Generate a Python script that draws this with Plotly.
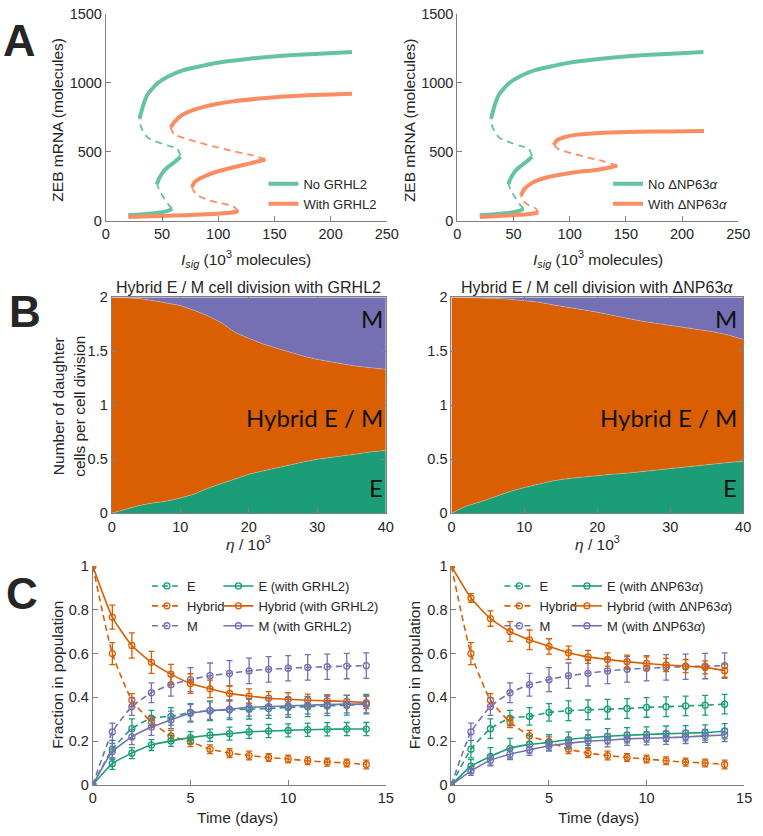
import plotly.graph_objects as go

W, H = 763, 836

# ---------------- Panel A: ZEB mRNA bifurcation branches ----------------
# "No GRHL2" / "No ΔNP63α" (identical curve in both panels)
A_NO_LOW_X = [20, 30, 40, 50, 55, 59]
A_NO_LOW_Y = [40, 46, 53, 63, 72, 88]
A_NO_UNS1_X = [59, 55, 51, 47.5, 45.5]
A_NO_UNS1_Y = [88, 125, 175, 225, 265]
A_NO_MID_X = [45.5, 46.5, 49, 52, 56, 61, 66.5]
A_NO_MID_Y = [265, 290, 330, 365, 395, 425, 465]
A_NO_UNS2_X = [66.5, 63.5, 55, 46, 37, 31.5, 30]
A_NO_UNS2_Y = [470, 522, 546, 570, 605, 676, 740]
A_NO_UP_X = [30, 33, 37, 46, 55, 69, 84, 98, 128, 157, 186, 219]
A_NO_UP_Y = [740, 830, 914, 997, 1044, 1092, 1120, 1144, 1175, 1196, 1210, 1224]

# "With GRHL2"
A_G_LOW_X = [20, 40, 60, 80, 100, 110, 118]
A_G_LOW_Y = [28, 33, 38, 44, 52, 58, 70]
A_G_UNS1_X = [118, 113, 101, 90, 81, 77.5, 76.5]
A_G_UNS1_Y = [70, 107, 130, 154, 190, 225, 245]
A_G_MID_X = [76.5, 79.5, 87, 98.5, 113, 127.5, 139, 142]
A_G_MID_Y = [245, 285, 320, 356, 387, 415, 439, 445]
A_G_UNS2_X = [142, 130.5, 113, 98.5, 84, 72, 60.5, 57.7]
A_G_UNS2_Y = [445, 475, 505, 534, 565, 593, 629, 676]
A_G_UP_X = [57.7, 60.6, 66.4, 75, 84, 98.5, 113, 142, 171, 200, 219]
A_G_UP_Y = [676, 712, 759, 795, 819, 847, 866, 890, 906, 916, 921]

# "With ΔNP63α"
A_P_LOW_X = [20, 40, 55, 65, 72]
A_P_LOW_Y = [28, 36, 44, 50, 60]
A_P_UNS1_X = [72, 70, 64, 59.5, 57.5, 56.7]
A_P_UNS1_Y = [60, 88, 111, 135, 158, 182]
A_P_MID_X = [56.7, 59.6, 67, 78.5, 101.7, 125, 136.6, 142.4]
A_P_MID_Y = [182, 230, 277, 312, 348, 371, 388, 400]
A_P_UNS2_X = [142.4, 130.8, 116.3, 101.7, 90, 85.8]
A_P_UNS2_Y = [400, 430, 459, 490, 520, 549]
A_P_UP_X = [85.8, 88.7, 96, 107.6, 130.8, 160, 189, 219.5]
A_P_UP_Y = [549, 584, 608, 625, 639, 646, 648, 651]

# ---------------- Panel B: daughter cells per division ----------------
ETA = [0, 2, 4, 6, 8, 10, 12, 14, 16, 18, 20, 22, 24, 26, 28, 30, 32, 34, 36, 38, 40]
B_G_E = [0, 0.035, 0.07, 0.095, 0.11, 0.14, 0.175, 0.23, 0.275, 0.32, 0.36, 0.39, 0.42,
         0.45, 0.475, 0.5, 0.515, 0.53, 0.55, 0.57, 0.58]
B_G_EH = [2.0, 1.995, 1.99, 1.97, 1.945, 1.925, 1.88, 1.83, 1.765, 1.675, 1.62, 1.57, 1.53,
          1.49, 1.455, 1.425, 1.40, 1.38, 1.36, 1.345, 1.333]
B_P_E = [0, 0.065, 0.105, 0.15, 0.2, 0.237, 0.267, 0.3, 0.32, 0.335, 0.345, 0.36, 0.37,
         0.385, 0.4, 0.415, 0.43, 0.445, 0.46, 0.47, 0.48]
B_P_EH = [2.0, 1.998, 1.995, 1.99, 1.983, 1.97, 1.955, 1.93, 1.91, 1.885, 1.863, 1.835, 1.805,
          1.78, 1.76, 1.742, 1.72, 1.70, 1.68, 1.65, 1.61]

# ---------------- Panel C: population fractions over time ----------------
T = [0, 1, 2, 3, 4, 5, 6, 7, 8, 9, 10, 11, 12, 13, 14]
C_E = [0, 0.163, 0.257, 0.305, 0.313, 0.331, 0.339, 0.343, 0.346, 0.349, 0.354, 0.357, 0.361, 0.364, 0.369]
C_E_ERR = [0, 0.04, 0.045, 0.035, 0.04, 0.04, 0.045, 0.045, 0.045, 0.045, 0.045, 0.045, 0.045, 0.045, 0.045]
C_H = [1.0, 0.60, 0.387, 0.287, 0.224, 0.197, 0.163, 0.145, 0.134, 0.125, 0.118, 0.11, 0.104, 0.10, 0.093]
C_H_ERR = [0, 0.05, 0.03, 0.025, 0.025, 0.022, 0.02, 0.02, 0.02, 0.018, 0.018, 0.018, 0.018, 0.018, 0.02]
C_M = [0, 0.242, 0.358, 0.421, 0.458, 0.481, 0.499, 0.51, 0.521, 0.528, 0.533, 0.537, 0.54, 0.543, 0.545]
C_M_ERR = [0, 0.04, 0.04, 0.045, 0.052, 0.055, 0.058, 0.058, 0.058, 0.058, 0.058, 0.058, 0.058, 0.058, 0.058]

C_G_E = [0, 0.097, 0.145, 0.182, 0.201, 0.216, 0.227, 0.234, 0.242, 0.246, 0.249, 0.252, 0.254, 0.255, 0.255]
C_G_E_ERR = [0, 0.026, 0.025, 0.025, 0.025, 0.027, 0.028, 0.03, 0.03, 0.03, 0.03, 0.03, 0.03, 0.03, 0.03]
C_G_H = [1.0, 0.767, 0.637, 0.56, 0.506, 0.463, 0.439, 0.418, 0.406, 0.396, 0.391, 0.387, 0.384, 0.381, 0.376]
C_G_H_ERR = [0, 0.055, 0.058, 0.05, 0.045, 0.045, 0.04, 0.035, 0.033, 0.03, 0.03, 0.028, 0.028, 0.028, 0.028]
C_G_M = [0, 0.152, 0.219, 0.264, 0.297, 0.327, 0.339, 0.346, 0.354, 0.358, 0.361, 0.364, 0.367, 0.369, 0.369]
C_G_M_ERR = [0, 0.037, 0.035, 0.038, 0.04, 0.04, 0.04, 0.04, 0.04, 0.04, 0.04, 0.04, 0.04, 0.04, 0.04]

C_P_E = [0, 0.085, 0.13, 0.167, 0.185, 0.194, 0.207, 0.215, 0.222, 0.227, 0.23, 0.234, 0.236, 0.239, 0.245]
C_P_E_ERR = [0, 0.03, 0.04, 0.045, 0.04, 0.035, 0.035, 0.035, 0.035, 0.035, 0.035, 0.035, 0.035, 0.035, 0.035]
C_P_H = [1.0, 0.854, 0.76, 0.701, 0.663, 0.633, 0.604, 0.585, 0.573, 0.563, 0.555, 0.548, 0.543, 0.537, 0.522]
C_P_H_ERR = [0, 0.02, 0.035, 0.045, 0.045, 0.035, 0.03, 0.03, 0.03, 0.03, 0.03, 0.03, 0.03, 0.03, 0.03]
C_P_M = [0, 0.063, 0.112, 0.14, 0.16, 0.179, 0.19, 0.2, 0.204, 0.21, 0.213, 0.215, 0.219, 0.224, 0.228]
C_P_M_ERR = [0, 0.02, 0.025, 0.025, 0.025, 0.025, 0.025, 0.03, 0.03, 0.03, 0.03, 0.03, 0.03, 0.03, 0.03]

# ---------------- styling ----------------
A_GREEN = "#66c2a5"
A_ORANGE = "#fc8d62"
GREEN = "#1b9e77"
ORANGE = "#d95f02"
PURPLE = "#7570b3"
FONT = "Liberation Sans, Arial, sans-serif"
AXCOL = "#808080"
TXT = "#262626"

fig = go.Figure()


def px_x(a, b):
    return [a / W, b / W]


def px_y(top, bottom):
    return [1 - bottom / H, 1 - top / H]


# ---- Panel A traces ----
def add_branch(x, y, color, dashed, ax, name=None, legend=None, show=False):
    fig.add_trace(go.Scatter(
        x=x, y=y, mode="lines", name=name or "",
        line=dict(color=color, width=1.8 if dashed else 4, dash="7px,5px" if dashed else "solid",
                  shape="spline", smoothing=0.6),
        xaxis="x" + ax, yaxis="y" + ax, showlegend=show, legend=legend, hoverinfo="skip"))


for ax, leg, nname, oname, o in [
    ("", "legend", "No GRHL2", "With GRHL2",
     (A_G_LOW_X, A_G_LOW_Y, A_G_UNS1_X, A_G_UNS1_Y, A_G_MID_X, A_G_MID_Y, A_G_UNS2_X, A_G_UNS2_Y, A_G_UP_X, A_G_UP_Y)),
    ("2", "legend2", "No ΔNP63<i>α</i>", "With ΔNP63<i>α</i>",
     (A_P_LOW_X, A_P_LOW_Y, A_P_UNS1_X, A_P_UNS1_Y, A_P_MID_X, A_P_MID_Y, A_P_UNS2_X, A_P_UNS2_Y, A_P_UP_X, A_P_UP_Y)),
]:
    add_branch(A_NO_UP_X, A_NO_UP_Y, A_GREEN, False, ax, nname, leg, True)
    add_branch(A_NO_LOW_X, A_NO_LOW_Y, A_GREEN, False, ax, legend=leg)
    add_branch(A_NO_MID_X, A_NO_MID_Y, A_GREEN, False, ax, legend=leg)
    add_branch(A_NO_UNS1_X, A_NO_UNS1_Y, A_GREEN, True, ax, legend=leg)
    add_branch(A_NO_UNS2_X, A_NO_UNS2_Y, A_GREEN, True, ax, legend=leg)
    add_branch(o[8], o[9], A_ORANGE, False, ax, oname, leg, True)
    add_branch(o[0], o[1], A_ORANGE, False, ax, legend=leg)
    add_branch(o[4], o[5], A_ORANGE, False, ax, legend=leg)
    add_branch(o[2], o[3], A_ORANGE, True, ax, legend=leg)
    add_branch(o[6], o[7], A_ORANGE, True, ax, legend=leg)

# ---- Panel B stacked areas ----
for ax, e, eh in [("3", B_G_E, B_G_EH), ("4", B_P_E, B_P_EH)]:
    hyb = [b - a for a, b in zip(e, eh)]
    mes = [2 - b for b in eh]
    for vals, col, nm in [(e, GREEN, "E"), (hyb, ORANGE, "Hybrid E / M"), (mes, PURPLE, "M")]:
        fig.add_trace(go.Scatter(
            x=ETA, y=vals, mode="lines", stackgroup="s" + ax, name=nm,
            line=dict(color="rgba(210,210,210,0.7)", width=0.6),
            fillcolor=col, xaxis="x" + ax, yaxis="y" + ax, showlegend=False, hoverinfo="skip"))


# ---- Panel C error-bar lines ----
def add_c(y, err, color, dashed, ax, name, legend):
    fig.add_trace(go.Scatter(
        x=T, y=y, mode="lines+markers", name=name,
        line=dict(color=color, width=1.6, dash="6px,4px" if dashed else "solid", shape="spline", smoothing=0.5),
        marker=dict(symbol="circle-open", size=6, color=color, line=dict(width=1.3, color=color)),
        error_y=dict(type="data", array=err, visible=True, color=color, thickness=1.3, width=3),
        xaxis="x" + ax, yaxis="y" + ax, legend=legend, showlegend=True))


for ax, la, lb, tag, sets in [
    ("5", "legend3", "legend4", "GRHL2",
     ((C_G_E, C_G_E_ERR), (C_G_H, C_G_H_ERR), (C_G_M, C_G_M_ERR))),
    ("6", "legend5", "legend6", "ΔNP63<i>α</i>",
     ((C_P_E, C_P_E_ERR), (C_P_H, C_P_H_ERR), (C_P_M, C_P_M_ERR))),
]:
    add_c(C_E, C_E_ERR, GREEN, True, ax, "E", la)
    add_c(C_H, C_H_ERR, ORANGE, True, ax, "Hybrid", la)
    add_c(C_M, C_M_ERR, PURPLE, True, ax, "M", la)
    add_c(sets[0][0], sets[0][1], GREEN, False, ax, "E (with %s)" % tag, lb)
    add_c(sets[1][0], sets[1][1], ORANGE, False, ax, "Hybrid (with %s)" % tag, lb)
    add_c(sets[2][0], sets[2][1], PURPLE, False, ax, "M (with %s)" % tag, lb)


# ---- axes ----
def axis(domain, rng, ticks, anchor, mirror=False, ticktext=None):
    d = dict(domain=domain, range=rng, tickvals=ticks, anchor=anchor, showgrid=False, zeroline=False,
             showline=True, linecolor=AXCOL, linewidth=1, ticks="inside", ticklen=5, tickcolor=AXCOL,
             tickfont=dict(family=FONT, size=14.5, color=TXT), fixedrange=True)
    if ticktext is not None:
        d["ticktext"] = ticktext
    if mirror:
        d["mirror"] = "ticks"
    return d


AY = px_y(6, 217)
BY = px_y(295, 515)
CY = px_y(569, 792)
layout_axes = dict(
    xaxis=axis(px_x(104, 391), [0, 250], [0, 50, 100, 150, 200, 250], "y"),
    yaxis=axis(AY, [0, 1500], [0, 500, 1000, 1500], "x"),
    xaxis2=axis(px_x(463, 750), [0, 250], [0, 50, 100, 150, 200, 250], "y2"),
    yaxis2=axis(AY, [0, 1500], [0, 500, 1000, 1500], "x2"),
    xaxis3=axis(px_x(110, 390), [0, 40], [0, 10, 20, 30, 40], "y3", True),
    yaxis3=axis(BY, [0, 2], [0, 0.5, 1, 1.5, 2], "x3", True, ["0", "0.5", "1", "1.5", "2"]),
    xaxis4=axis(px_x(457, 755), [0, 40], [0, 10, 20, 30, 40], "y4", True),
    yaxis4=axis(BY, [0, 2], [0, 0.5, 1, 1.5, 2], "x4", True, ["0", "0.5", "1", "1.5", "2"]),
    xaxis5=axis(px_x(90.7, 390), [0, 15], [0, 5, 10, 15], "y5"),
    yaxis5=axis(CY, [0, 1], [0, 0.2, 0.4, 0.6, 0.8, 1], "x5", False, ["0", "0.2", "0.4", "0.6", "0.8", "1"]),
    xaxis6=axis(px_x(457, 756), [0, 15], [0, 5, 10, 15], "y6"),
    yaxis6=axis(CY, [0, 1], [0, 0.2, 0.4, 0.6, 0.8, 1], "x6", False, ["0", "0.2", "0.4", "0.6", "0.8", "1"]),
)


def legend(xpx, ypx):
    return dict(x=xpx / W, y=1 - ypx / H, xanchor="left", yanchor="top", bgcolor="rgba(0,0,0,0)",
                borderwidth=0, font=dict(family=FONT, size=13, color=TXT), tracegroupgap=0,
                itemwidth=30, traceorder="normal")


# ---- annotations ----
ann = []


def text(xpx, ypx, s, size=15.5, angle=0, family=FONT, color=TXT, xanchor="center"):
    ann.append(dict(x=xpx / W, y=1 - ypx / H, xref="paper", yref="paper", text=s, showarrow=False,
                    textangle=angle, xanchor=xanchor, yanchor="middle",
                    font=dict(family=family, size=size, color=color)))


# panel letters
text(16, 33, "<b>A</b>", 45)
text(21, 309, "<b>B</b>", 44)
text(18, 597, "<b>C</b>", 44)
# A axis titles
text(55, 114, "ZEB mRNA (molecules)", 15.5, -90)
text(415, 114, "ZEB mRNA (molecules)", 15.5, -90)
text(247, 256, "<i>I</i><sub><i>sig</i></sub> (10<sup>3</sup> molecules)", 15.5)
text(607, 256, "<i>I</i><sub><i>sig</i></sub> (10<sup>3</sup> molecules)", 15.5)
# B titles and labels
text(250, 285, "Hybrid E / M cell division with GRHL2", 16)
text(606, 285, "Hybrid E / M cell division with ΔNP63<i>α</i>", 16)
text(66, 406, "Number of daughter<br>cells per cell division", 15.5, -90)
text(250, 545, "<i>η</i> / 10<sup>3</sup>", 15.5)
text(606, 545, "<i>η</i> / 10<sup>3</sup>", 15.5)
for xr in (389, 751):
    text(xr, 317, "M", 24, 0, "Lato, Open Sans, sans-serif", "#111", "right")
    text(xr, 417, "Hybrid E / M", 24, 0, "Lato, Open Sans, sans-serif", "#111", "right")
    text(xr, 489, "E", 24, 0, "Lato, Open Sans, sans-serif", "#111", "right")
# C titles
text(55, 680, "Fraction in population", 15.5, -90)
text(420, 680, "Fraction in population", 15.5, -90)
text(238, 825, "Time (days)", 15.5)
text(607, 825, "Time (days)", 15.5)

fig.update_layout(
    width=W, height=H, margin=dict(l=0, r=0, t=0, b=0),
    paper_bgcolor="white", plot_bgcolor="rgba(0,0,0,0)",
    font=dict(family=FONT, color=TXT),
    legend=legend(265, 164),
    legend2=legend(617, 164),
    legend3=legend(146, 574),
    legend4=legend(219, 574),
    legend5=legend(506, 574),
    legend6=legend(575, 574),
    annotations=ann,
    **layout_axes,
)

fig.write_html("out.html", config={"displayModeBar": False},
               post_script="document.body.style.margin='0px';document.body.style.overflow='hidden';")
